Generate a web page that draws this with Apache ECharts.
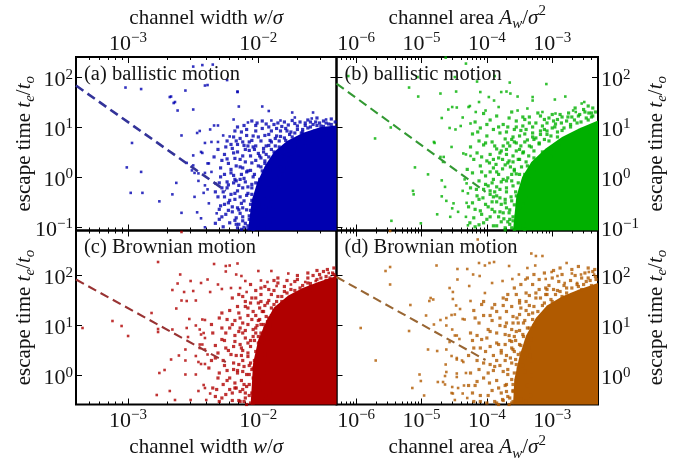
<!DOCTYPE html>
<html>
<head>
<meta charset="utf-8">
<script src="https://cdn.jsdelivr.net/npm/echarts@6/dist/echarts.min.js"></script>
<style>
  html, body { margin: 0; padding: 0; background: #fff; }
  #chart { width: 688px; height: 464px; }
</style>
</head>
<body>
<div id="chart"></div>
<script>
// Every point is stored as [log10(size), log10(t_e / t_o)], where size is the
// channel width w/σ (left panels) or the channel area A_w/σ² (right panels).

// (a) ballistic motion vs channel width
const ballisticWidthSparse = [
  [-3.02,1.79],[-2.90,1.76],[-2.67,1.61],[-2.56,1.73],[-2.64,1.50],[-2.62,1.33],[-2.50,1.35],[-2.41,1.83],
  [-2.59,0.83],[-2.47,0.88],[-2.45,0.92],[-2.41,0.68],[-2.97,0.68],[-3.01,0.19],[-2.90,0.10],[-2.50,0.43],
  [-2.44,0.50],[-2.43,0.48],[-2.39,0.27],[-2.50,0.23],[-2.55,0.28],[-2.51,0.13],[-2.49,0.08],[-2.46,0.07],
  [-2.41,0.08],[-2.63,-0.12],[-2.46,-0.08],[-2.41,-0.17],[-2.42,-0.32],[-2.39,-0.25],[-2.49,-0.40],[-2.89,-0.32],
  [-2.98,-0.32],[-2.66,-0.35],[-2.76,-0.49],[-2.59,-0.72],[-2.47,-0.71],[-2.44,-0.83],[-2.41,-1.01],
  [-2.50,2.21],[-2.43,2.24],[-2.39,1.84],[-2.24,1.94],[-2.16,1.70],[-2.68,1.60],[-2.65,1.48],
  [-2.35,2.25],[-2.16,1.71],[-2.15,1.41],[-1.97,1.41],[-1.92,1.32],[-1.74,1.29],[-1.58,1.29],[-1.48,1.15],
  [-1.59,1.17],[-1.72,1.19],[-1.83,1.13],[-1.90,1.13],[-2.08,1.09],[-2.19,1.15],[-2.34,1.03],[-2.31,1.03],
  [-2.37,0.95],[-2.27,0.83],[-2.22,0.81],[-2.31,0.70],[-2.36,0.70],[-2.38,0.27],[-2.36,0.10],[-2.33,-0.13],
  [-2.32,-0.73],[-2.38,-0.53]
];
const ballisticWidthCloud = [
  [-2.16,1.00],[-2.11,1.03],[-2.02,1.03],[-1.97,0.97],[-1.92,1.00],[-1.90,0.92],[-1.86,0.97],[-1.82,1.01],
  [-1.79,0.97],[-1.75,0.90],[-1.72,1.07],[-1.66,0.95],[-1.64,1.03],[-1.60,1.00],[-1.55,1.03],[-1.50,1.01],
  [-1.43,0.99],[-2.19,0.80],[-2.14,0.77],[-2.09,0.83],[-2.05,0.73],[-2.00,0.80],[-1.95,0.83],[-1.91,0.73],
  [-1.87,0.77],[-1.83,0.81],[-1.79,0.73],[-1.74,0.80],[-1.70,0.77],[-1.66,0.83],[-1.61,0.85],[-2.25,0.60],
  [-2.20,0.57],[-2.16,0.50],[-2.11,0.63],[-2.07,0.53],[-2.04,0.60],[-2.00,0.47],[-1.96,0.57],[-1.92,0.63],
  [-1.88,0.50],[-1.84,0.60],[-1.81,0.50],[-1.77,0.57],[-1.72,0.60],[-2.28,0.33],[-2.23,0.27],[-2.18,0.37],
  [-2.14,0.20],[-2.10,0.30],[-2.06,0.13],[-2.02,0.33],[-1.98,0.20],[-1.95,0.27],[-1.91,0.13],[-1.87,0.37],
  [-1.83,0.20],[-1.79,0.30],[-1.75,0.40],[-2.29,0.00],[-2.24,-0.10],[-2.19,0.03],[-2.15,-0.17],[-2.11,-0.03],
  [-2.08,-0.20],[-2.04,0.00],[-2.00,-0.13],[-1.96,0.03],[-1.92,-0.23],[-1.88,-0.07],[-1.84,0.03],[-2.31,-0.40],
  [-2.27,-0.30],[-2.22,-0.47],[-2.18,-0.33],[-2.13,-0.53],[-2.09,-0.37],[-2.05,-0.47],[-2.01,-0.30],[-1.97,-0.57],
  [-1.93,-0.40],[-1.90,-0.50],[-2.28,-0.80],[-2.23,-0.67],[-2.18,-0.87],[-2.14,-0.73],[-2.10,-0.93],[-2.06,-0.67],
  [-2.02,-0.83],[-1.98,-0.97],[-1.95,-0.73],[-1.91,-0.90],[-2.33,-0.93],[-2.11,-1.01],[-1.45,0.92],[-1.48,0.85],
  [-1.52,0.88],[-1.55,0.80],[-1.58,0.72],[-1.62,0.68],[-1.65,0.62],[-1.68,0.70],[-1.70,0.52],[-1.47,0.95],
  [-1.42,0.95],[-1.53,0.74],[-1.57,0.92],[-1.63,0.76],[-1.69,0.45],[-1.76,0.30],[-1.78,0.18],[-1.81,0.05],
  [-1.84,-0.20],[-1.87,-0.35],[-1.89,-0.60],[-1.88,-0.85],[-1.93,-1.02],[-1.86,-0.02],[-1.80,0.40],[-1.74,0.48],
  [-1.97,-0.20],[-1.95,-0.45],[-1.99,-0.65],[-1.96,-0.85],[-2.03,-0.58],[-2.00,-1.03],[-1.94,-0.60],[-2.02,-0.12],
  [-1.98,0.38],[-1.94,0.45],[-1.90,0.28],[-1.86,0.45],[-1.85,0.15],[-1.82,0.42],[-1.77,0.45],[-1.72,0.68],[-1.67,0.88],
  [-2.26,0.45],[-2.21,0.15],[-2.17,-0.08],[-2.24,-0.22],[-2.20,-0.60],[-2.15,-0.95],[-2.07,-0.78],[-2.05,-0.22],
  [-2.12,0.42],[-2.07,0.70],[-2.02,0.92],[-2.13,0.90],[-2.24,0.72],[-2.29,0.18],[-2.26,-0.55],[-2.30,-0.65],
  [-2.12,-0.62],[-2.03,0.55],[-2.09,0.10],[-2.16,0.65],[-1.85,1.08],[-1.77,1.04],[-1.68,1.10],[-1.62,1.14],
  [-1.53,1.08],[-1.46,1.06],[-1.94,1.06],[-2.05,1.12],
  [-2.04,-1.05],[-2.08,-0.98],[-2.03,-0.90],[-2.07,-0.85],[-2.12,-0.80],[-2.04,-0.72],[-2.09,-0.66],[-2.02,-0.62],
  [-2.06,-0.55],[-2.11,-0.48],[-2.03,-0.42],[-2.08,-0.33],[-2.01,-0.27],[-2.05,-0.15],[-2.10,-0.10],[-1.99,-0.05],
  [-2.03,0.05],[-2.08,0.12],[-1.97,0.12],[-2.00,0.22],[-2.05,0.28],[-1.95,0.32],[-1.99,0.42],[-1.92,0.40],
  [-1.96,0.50],[-1.90,0.55],[-1.94,0.62],[-1.87,0.62],[-1.90,0.70],[-1.84,0.72],[-1.86,0.82],[-1.80,0.78],
  [-1.76,0.85],[-1.78,0.92],[-1.72,0.88],[-1.70,0.95],[-1.66,0.90],[-1.62,0.98],[-1.58,1.05],[-1.52,1.02],
  [-1.48,1.08],[-1.44,1.05],[-1.41,1.10],[-1.50,1.12],[-1.56,1.10],[-1.64,1.08],[-2.14,-0.40],[-2.16,-0.62],
  [-2.13,0.05],[-2.12,-0.22],[-2.18,-0.05],[-2.06,0.42],[-2.02,0.62],[-1.98,0.72],[-1.92,0.85],[-1.83,0.92],
  [-2.01,-0.78],[-2.05,-0.35],[-2.13,-1.05],[-2.17,-0.95],
  [-2.27,-1.00],[-2.22,-0.92],[-2.17,-0.82],[-2.25,-0.75],[-2.20,-0.70],[-2.15,-0.66],[-2.29,-0.58],[-2.23,-0.52],
  [-2.18,-0.45],[-2.26,-0.40],[-2.21,-0.35],[-2.16,-0.28],[-2.28,-0.22],[-2.23,-0.16],[-2.19,-0.12],[-2.14,-0.05],
  [-2.26,0.05],[-2.21,0.08],[-2.17,0.22],[-2.12,0.18],[-2.24,0.36],[-2.19,0.48],[-2.14,0.35],[-2.10,0.55],
  [-2.21,0.65],[-2.17,0.72],[-2.12,0.70],[-2.08,0.62],[-2.04,0.82],[-2.09,0.95],[-2.18,0.92],[-2.01,1.08],
  [-1.97,1.12],[-1.88,1.05],[-1.80,1.10],[-1.74,1.13],[-1.70,1.02],[-1.60,1.10],[-1.55,1.18],[-1.44,1.16],
  [-2.30,-0.85],[-2.33,-0.30],[-2.31,0.55],[-2.34,0.40],[-2.30,-0.12],[-2.12,-0.88],[-2.08,-1.04],[-2.16,-1.02]
];
const ballisticWidthCore = [
  [-1.40,1.03],[-1.52,1.00],[-1.66,0.88],[-1.78,0.72],[-1.88,0.50],[-1.95,0.22],[-2.01,-0.12],[-2.05,-0.47],
  [-2.08,-1.08],[-1.40,-1.08]
];
const ballisticWidthFit = [[-3.40,1.83],[-2.25,-0.28]];

// (b) ballistic motion vs channel area
const ballisticAreaSparse = [
  [-6.12,2.02],[-5.19,1.79],[-5.05,1.61],[-4.71,1.67],[-5.06,2.00],[-4.49,2.00],[-4.32,2.27],[-4.63,2.39],
  [-4.59,1.35],[-4.53,1.40],[-4.46,1.39],[-4.26,1.42],[-4.69,1.18],[-4.37,1.19],[-4.57,0.98],[-4.48,0.95],
  [-4.40,1.02],[-5.47,0.99],[-5.71,0.77],[-4.81,0.70],[-4.54,0.60],[-4.36,0.47],[-4.32,0.45],[-4.25,0.42],
  [-4.71,0.40],[-4.66,0.40],[-4.67,0.30],[-5.10,0.19],[-4.90,0.05],[-4.34,-0.05],[-4.31,-0.13],[-4.69,-0.07],
  [-4.64,-0.20],[-4.37,-0.28],[-4.29,-0.33],[-5.13,-0.28],[-5.12,-0.35],[-4.69,-0.39],[-4.62,-0.48],[-4.51,-0.53],
  [-4.31,-0.52],[-4.53,-0.63],[-4.44,-0.70],[-4.76,-0.75],[-4.56,-0.80],[-4.32,-0.80],[-5.46,-0.88],[-5.01,-0.93],
  [-4.29,-0.97],[-4.47,1.71],[-4.15,1.91],[-3.88,2.02],[-3.65,1.89],[-3.09,1.86],[-2.80,1.61],[-2.55,1.47],
  [-3.70,1.71],[-4.80,0.68],[-4.10,1.70],[-3.78,1.70],[-3.64,1.67],[-3.89,1.53],[-3.97,1.60],[-3.82,1.40],
  [-3.53,1.61],[-3.30,1.60],[-3.30,1.53],[-2.51,1.50],[-2.96,1.55],[-4.28,1.40],[-4.12,1.50],[-4.25,1.07],
  [-4.17,1.30],[-4.02,1.33],[-3.53,1.33],[-3.38,1.37],[-3.15,1.30],[-2.95,1.27],[-2.68,1.33],[-2.64,1.30]
];
const ballisticAreaCloud = [
  [-4.05,1.27],[-3.85,1.22],[-3.62,1.30],[-3.45,1.20],[-3.22,1.28],[-3.05,1.18],[-2.88,1.25],[-2.70,1.20],
  [-2.50,1.30],[-2.38,1.22],[-4.18,1.10],[-3.95,1.14],[-3.75,1.05],[-3.55,1.12],[-3.35,1.08],[-3.12,1.15],
  [-2.95,1.06],[-2.78,1.12],[-2.62,1.08],[-2.45,1.14],[-2.33,1.05],[-4.10,0.98],[-3.90,0.95],[-3.68,1.00],
  [-3.48,0.93],[-3.30,1.00],[-3.18,0.92],[-3.00,0.98],[-2.85,0.93],[-2.72,1.00],[-2.55,0.95],[-2.42,0.90],
  [-4.22,0.86],[-4.00,0.82],[-3.80,0.88],[-3.60,0.80],[-3.42,0.86],[-3.25,0.78],[-3.08,0.85],[-2.92,0.80],
  [-2.80,0.72],[-2.68,0.84],[-4.12,0.72],[-3.92,0.70],[-3.72,0.76],[-3.55,0.68],[-3.38,0.74],[-3.20,0.66],
  [-3.05,0.72],[-2.90,0.62],[-2.97,0.55],[-4.25,0.60],[-4.05,0.64],[-3.85,0.56],[-3.65,0.62],[-3.50,0.55],
  [-3.32,0.60],[-3.15,0.50],[-3.02,0.42],[-3.10,0.35],[-4.15,0.48],[-3.95,0.45],[-3.78,0.52],[-3.60,0.42],
  [-3.45,0.48],[-3.28,0.38],[-3.20,0.28],[-4.20,0.35],[-4.00,0.32],[-3.82,0.38],[-3.68,0.28],[-3.52,0.35],
  [-3.38,0.22],[-3.28,0.12],[-4.10,0.22],[-3.90,0.18],[-3.72,0.24],[-3.58,0.15],[-3.42,0.05],[-3.35,-0.05],
  [-4.22,0.08],[-4.02,0.02],[-3.85,0.10],[-3.68,-0.02],[-3.55,0.06],[-3.45,-0.15],[-4.12,-0.08],[-3.92,-0.12],
  [-3.75,-0.05],[-3.60,-0.18],[-3.48,-0.28],[-3.40,-0.40],[-4.25,-0.22],[-4.05,-0.25],[-3.85,-0.20],[-3.70,-0.30],
  [-3.55,-0.38],[-3.45,-0.55],[-4.15,-0.38],[-3.95,-0.35],[-3.80,-0.42],[-3.62,-0.48],[-3.50,-0.62],[-3.42,-0.75],
  [-4.22,-0.52],[-4.02,-0.55],[-3.85,-0.50],[-3.70,-0.62],[-3.55,-0.78],[-3.44,-0.92],[-4.10,-0.68],[-3.92,-0.65],
  [-3.75,-0.72],[-3.60,-0.88],[-3.50,-1.00],[-4.20,-0.82],[-4.00,-0.85],[-3.82,-0.80],[-3.65,-0.95],[-3.42,-1.05],
  [-4.12,-0.96],[-3.90,-0.98],[-3.72,-1.02],[-3.58,-1.05],
  [-4.30,0.15],[-4.28,-0.60],[-4.18,-0.65],[-4.08,0.40],[-3.98,-0.18],[-3.88,0.62],[-3.96,0.28],[-4.06,-0.42],
  [-3.78,-0.90],[-3.88,-0.30],[-4.14,0.90],[-3.66,1.18],[-3.42,1.15],[-3.18,1.22],[-2.92,1.15],[-2.60,1.22],
  [-2.40,1.28],[-4.00,1.05],[-3.82,1.00],[-3.58,0.95],[-3.66,-0.72],[-3.72,-0.45],[-3.62,0.05],[-3.75,0.62],
  [-3.62,-1.02],[-3.68,-0.90],[-3.60,-0.80],[-3.74,-0.84],[-3.65,-0.66],[-3.58,-0.56],[-3.72,-0.52],[-3.63,-0.40],
  [-3.56,-0.30],[-3.70,-0.22],[-3.52,-0.12],[-3.62,-0.08],[-3.50,0.05],[-3.58,0.12],[-3.47,0.20],[-3.40,0.30],
  [-3.50,0.35],[-3.36,0.42],[-3.44,0.50],[-3.28,0.52],[-3.35,0.62],[-3.20,0.68],[-3.28,0.75],[-3.12,0.75],
  [-3.18,0.85],[-3.02,0.82],[-3.08,0.92],[-2.92,0.90],[-2.96,1.00],[-2.82,0.98],[-2.86,1.08],[-2.72,1.05],
  [-2.66,1.14],[-2.56,1.10],[-2.48,1.18],[-2.40,1.20],[-2.34,1.30],[-2.44,1.28],[-2.58,1.25],[-2.76,1.20],
  [-3.80,-0.70],[-3.78,-0.10],[-3.66,0.32],[-3.55,0.52],[-3.42,0.70],[-3.30,0.88],[-3.15,1.02],[-2.98,1.12],
  [-3.85,-0.98],[-3.90,-0.40],[-3.70,0.45],[-3.58,0.70],[-3.40,0.95],[-3.72,-1.06],[-3.64,0.20],
  [-4.18,-1.00],[-4.05,-0.92],[-3.95,-0.80],[-3.88,-0.70],[-4.08,-0.75],[-3.98,-0.60],[-3.92,-0.50],[-4.12,-0.45],
  [-3.85,-0.38],[-3.95,-0.28],[-4.02,-0.15],[-3.80,-0.25],[-3.90,-0.05],[-3.82,0.05],[-3.95,0.10],[-3.76,0.16],
  [-3.86,0.25],[-3.76,0.35],[-3.90,0.35],[-3.70,0.55],[-3.80,0.48],[-3.68,0.68],[-3.62,0.75],[-3.50,0.82],
  [-3.70,0.90],[-3.45,1.02],[-3.55,1.00],[-3.25,1.08],[-3.35,1.20],[-3.08,1.08],[-3.00,1.25],[-2.85,1.20],
  [-2.75,1.28],[-2.65,1.38],[-2.52,1.35],[-2.38,1.38],[-2.45,1.42],[-3.52,-0.95],[-3.65,-0.85],[-3.78,-0.55],
  [-3.70,-0.08],[-3.60,0.30],[-3.48,0.62],[-3.30,0.80],[-3.12,0.95],[-4.26,-0.92],[-4.16,-0.25],[-4.08,0.10],
  [-4.02,0.68]
];
const ballisticAreaCore = [
  [-2.30,1.13],[-2.59,0.97],[-2.85,0.80],[-3.10,0.57],[-3.32,0.30],[-3.46,0.00],[-3.55,-0.40],[-3.60,-1.08],
  [-2.30,-1.08]
];
const ballisticAreaFit = [[-6.30,1.87],[-4.02,-0.30]];

// (c) Brownian motion vs channel width
const brownianWidthSparse = [
  [-2.77,2.27],[-3.35,0.95],[-3.12,1.09],[-3.05,0.99],[-3.00,0.79],[-2.82,1.25],[-2.77,0.93],[-2.77,0.87],
  [-2.66,0.92],[-2.60,2.02],[-2.62,1.84],[-2.66,1.71],[-2.63,1.34],[-2.59,1.50],[-2.57,1.67],[-2.52,1.89],
  [-2.50,1.69],[-2.55,1.49],[-2.48,1.50],[-2.44,1.85],[-2.53,1.13],[-2.48,1.00],[-2.55,0.95],[-2.43,1.12],
  [-2.41,1.11],[-2.45,0.92],[-2.44,0.82],[-2.41,0.75],[-2.42,0.85],[-2.45,0.62],[-2.43,0.62],[-2.45,0.55],
  [-2.41,0.52],[-2.39,0.42],[-2.54,0.77],[-2.56,0.52],[-2.61,0.40],[-2.56,0.30],[-2.48,0.39],[-2.44,0.23],
  [-2.41,0.23],[-2.46,0.27],[-2.67,0.32],[-2.72,0.11],[-2.76,0.05],[-2.56,0.02],[-2.48,0.02],[-2.42,-0.19],
  [-2.41,-0.25],[-2.68,-0.31],[-2.78,-0.39],[-2.64,-0.49],[-2.46,-0.31],[-2.37,-0.36],[-2.40,-0.49],[-2.52,-0.49],
  [-2.59,2.87],[-2.34,2.23],[-2.25,2.19],[-2.22,2.20],[-2.16,2.24],[-2.25,2.08],[-2.17,2.02],[-2.13,1.99],
  [-2.10,1.89],[-2.00,2.09],[-1.90,2.09],[-1.77,2.04],[-1.98,1.90],[-2.39,1.92],[-2.31,1.82],[-2.37,1.67],
  [-2.28,1.73],[-2.21,1.75],[-2.14,1.75],[-2.09,1.67],[-1.93,1.87],[-1.86,1.79],[-1.75,1.82],[-1.64,1.87],
  [-1.56,1.89],[-1.46,2.05],[-1.41,1.99]
];
const brownianWidthCloud = [
  [-2.05,1.55],[-1.98,1.62],[-1.92,1.50],[-1.85,1.58],[-1.80,1.68],[-1.72,1.62],[-1.68,1.75],[-1.60,1.78],
  [-1.55,1.70],[-1.50,1.85],[-1.45,1.95],[-1.42,2.02],[-1.52,1.95],[-1.62,1.85],[-1.75,1.72],[-1.88,1.70],
  [-2.00,1.45],[-1.95,1.40],[-1.88,1.42],[-1.82,1.48],[-2.10,1.48],[-2.22,1.30],[-2.15,1.25],[-2.08,1.35],
  [-2.02,1.20],[-1.96,1.28],[-1.92,1.15],[-1.88,1.30],[-2.30,1.15],[-2.18,1.10],[-2.12,1.05],[-2.05,1.12],
  [-1.98,1.02],[-1.93,1.08],[-2.35,0.85],[-2.28,0.72],[-2.22,0.95],[-2.18,0.80],[-2.14,0.62],[-2.10,0.90],
  [-2.06,0.70],[-2.02,0.85],[-1.98,0.58],[-1.95,0.95],[-1.93,0.72],[-2.25,0.55],[-2.12,0.50],[-2.00,0.78],
  [-1.97,0.65],[-2.33,0.35],[-2.26,0.20],[-2.21,0.42],[-2.16,0.10],[-2.12,0.30],[-2.08,0.45],[-2.04,0.15],
  [-2.00,0.35],[-1.96,0.05],[-1.93,0.25],[-2.30,0.05],[-2.19,0.25],[-2.07,0.02],[-1.95,0.42],[-2.35,-0.25],
  [-2.28,-0.45],[-2.24,-0.10],[-2.20,-0.35],[-2.15,-0.50],[-2.11,-0.18],[-2.07,-0.40],[-2.03,-0.08],[-1.99,-0.30],
  [-1.95,-0.52],[-1.93,-0.15],[-2.31,-0.05],[-2.17,-0.25],[-2.01,-0.45],[-1.91,1.00],[-1.92,0.50],[-1.91,-0.35],
  [-1.92,0.10],[-1.97,-0.10],[-1.94,0.82],[-1.99,1.12],[-1.96,0.18],[-1.94,-0.40],[-1.98,0.48],[-2.04,0.92],
  [-1.90,1.20],[-1.84,1.38],[-1.78,1.52],[-1.70,1.58],[-1.58,1.72],[-1.48,1.90],
  [-2.38,0.15],[-2.33,-0.42],[-2.26,0.70],[-2.22,-0.28],[-2.19,0.58],[-2.14,0.95],[-2.10,-0.35],[-2.06,0.25],
  [-2.04,-0.55],[-2.08,1.20],[-2.16,1.38],[-2.24,1.12],[-2.12,1.58],[-2.02,1.70],[-1.95,1.78],[-1.85,1.85],
  [-1.72,1.88],[-1.62,1.95],[-1.53,2.02],[-2.31,0.45],[-2.36,1.02],[-2.20,1.55],[-2.28,0.95],[-2.13,-0.10],
  [-2.06,-0.55],[-2.10,-0.45],[-2.05,-0.35],[-2.12,-0.28],[-2.07,-0.18],[-2.04,-0.05],[-2.09,0.02],[-2.05,0.12],
  [-2.11,0.18],[-2.03,0.30],[-2.08,0.38],[-2.02,0.48],[-2.06,0.58],[-2.00,0.65],[-2.04,0.78],[-1.98,0.85],
  [-2.02,0.95],[-1.96,1.02],[-2.00,1.10],[-1.94,1.18],[-1.97,1.28],[-1.90,1.35],[-1.93,1.45],[-1.86,1.48],
  [-1.82,1.58],[-1.78,1.65],[-1.72,1.70],[-1.66,1.80],[-1.60,1.84],[-1.55,1.92],[-1.48,1.98],[-1.43,2.05],
  [-1.50,2.08],[-1.58,2.00],[-1.70,1.92],[-1.80,1.78],[-2.14,-0.52],[-2.16,0.05],[-2.13,0.55],[-2.10,0.75],
  [-2.08,1.02],[-2.04,1.28],[-1.98,1.48],[-1.90,1.62],[-2.18,-0.15],[-2.17,0.40],[-2.09,-0.58],[-2.15,0.88],
  [-2.30,-0.52],[-2.25,-0.38],[-2.20,-0.50],[-2.18,-0.25],[-2.27,-0.18],[-2.22,-0.05],[-2.14,-0.32],[-2.19,0.12],
  [-2.27,0.30],[-2.23,0.50],[-2.15,0.22],[-2.12,0.08],[-2.18,0.68],[-2.25,0.85],[-2.12,0.85],[-2.08,0.65],
  [-2.20,1.02],[-2.14,1.15],[-2.06,1.45],[-2.10,1.38],[-2.02,1.55],[-2.15,1.62],[-1.98,1.75],[-1.92,1.72],
  [-1.85,1.95],[-1.78,1.90],[-1.70,2.00],[-1.62,2.05],[-1.55,2.10],[-1.47,2.12],[-1.42,2.15],[-1.88,1.90],
  [-2.06,1.82],[-2.33,0.60],[-2.36,0.30],[-2.32,-0.28],[-2.09,-0.22],[-2.07,0.20],[-2.13,0.40],[-2.03,0.70],
  [-2.01,1.00],[-1.99,1.35],[-2.11,-0.52],[-2.24,0.10],[-2.28,1.25]
];
const brownianWidthCore = [
  [-1.40,1.99],[-1.54,1.87],[-1.66,1.75],[-1.77,1.60],[-1.88,1.36],[-1.94,1.08],[-2.00,0.72],[-2.04,0.25],
  [-2.06,-0.60],[-1.40,-0.60]
];
const brownianWidthFit = [[-3.40,1.92],[-2.25,0.27]];

// (d) Brownian motion vs channel area
const brownianAreaSparse = [
  [-5.55,2.09],[-5.48,2.17],[-5.48,1.82],[-5.93,0.95],[-5.70,0.30],[-5.19,0.89],[-5.17,1.41],[-4.93,1.20],
  [-4.90,0.52],[-4.86,1.55],[-4.82,1.52],[-4.88,1.49],[-4.77,2.20],[-4.76,0.49],[-4.81,1.02],[-4.71,1.11],
  [-5.03,0.02],[-5.01,-0.11],[-5.14,-0.25],[-4.96,-0.40],[-4.62,1.15],[-4.57,1.75],[-4.52,1.67],[-4.52,1.53],
  [-4.47,1.40],[-4.41,1.33],[-4.49,1.22],[-4.54,1.21],[-4.45,1.92],[-4.45,2.13],[-4.30,2.13],[-4.27,1.79],
  [-4.34,1.12],[-4.37,1.13],[-4.53,0.92],[-4.49,0.80],[-4.46,0.80],[-4.42,0.73],[-4.62,1.00],[-4.57,0.67],
  [-4.62,0.52],[-4.54,0.39],[-4.46,0.35],[-4.38,0.30],[-4.36,0.27],[-4.63,0.22],[-4.62,0.07],[-4.64,-0.01],
  [-4.67,-0.13],[-4.64,-0.18],[-4.46,0.04],[-4.46,-0.03],[-4.32,0.05],[-4.53,-0.23],[-4.52,-0.36],[-4.44,-0.25],
  [-4.49,-0.49],[-4.35,-0.20],[-4.37,-0.36],[-4.30,-0.45],[-4.75,-0.13],[-4.46,0.32],[-4.54,-0.35],[-5.48,2.89],
  [-4.14,2.72],[-3.96,2.25],[-3.89,2.27],[-4.03,2.20],[-4.12,2.25],[-3.66,2.19],[-3.38,2.15],[-3.26,2.20],
  [-3.25,2.39],[-3.32,2.44],[-3.15,2.39],[-2.78,2.25],[-3.01,2.07],[-2.70,2.04],[-2.56,2.02],[-2.44,2.07],
  [-2.36,2.02],[-4.21,2.02],[-4.11,1.99],[-3.76,1.89],[-3.61,1.93],[-3.51,2.02],[-3.41,1.92],[-3.10,1.93],
  [-2.92,1.99],[-2.81,1.85],[-2.62,1.85],[-4.25,1.49],[-4.03,1.65],[-3.92,1.85]
];
const brownianAreaCloud = [
  [-3.25,1.55],[-3.15,1.40],[-3.08,1.62],[-3.00,1.48],[-2.92,1.70],[-2.85,1.58],[-2.78,1.75],[-2.70,1.62],
  [-2.62,1.82],[-2.55,1.72],[-2.48,1.88],[-2.40,1.80],[-2.33,1.92],[-3.20,1.72],[-3.05,1.80],[-2.90,1.88],
  [-2.72,1.90],[-2.45,1.95],[-3.35,1.40],[-3.30,1.25],[-4.20,1.30],[-4.05,1.20],[-3.92,1.35],[-3.80,1.15],
  [-3.70,1.28],[-3.60,1.05],[-3.50,1.22],[-3.42,1.10],[-3.35,0.95],[-4.12,1.05],[-3.98,0.92],[-3.85,0.85],
  [-3.72,0.98],[-3.55,0.88],[-3.45,0.82],[-3.62,1.38],[-3.88,1.42],[-4.22,0.70],[-4.10,0.55],[-4.00,0.75],
  [-3.90,0.40],[-3.82,0.62],[-3.72,0.30],[-3.65,0.70],[-3.58,0.48],[-3.50,0.62],[-3.42,0.35],[-3.36,0.55],
  [-3.32,0.72],[-4.15,0.30],[-3.95,0.22],[-3.78,0.50],[-3.62,0.25],[-3.45,0.20],[-3.34,0.40],[-4.25,0.05],
  [-4.18,-0.20],[-4.05,-0.05],[-3.98,-0.40],[-3.90,0.10],[-3.82,-0.25],[-3.75,-0.50],[-3.68,0.02],[-3.60,-0.30],
  [-3.55,-0.10],[-3.48,-0.48],[-3.42,0.08],[-3.38,-0.20],[-3.33,-0.40],[-4.10,-0.52],[-3.85,-0.55],[-3.65,-0.45],
  [-3.52,0.15],[-3.31,0.00],[-3.40,1.30],[-3.28,1.00],[-3.38,0.72],[-3.31,0.30],[-3.40,-0.52],[-3.52,-0.25],
  [-3.48,0.45],[-3.58,0.78],[-3.70,-0.18],[-3.95,0.58],[-4.05,1.48],[-3.75,1.55],[-3.50,1.50],[-3.10,1.75],
  [-4.28,0.40],[-4.22,-0.35],[-4.15,0.80],[-4.08,1.42],[-3.96,-0.15],[-3.92,1.10],[-3.85,0.30],[-3.78,-0.35],
  [-3.70,1.52],[-3.62,0.55],[-3.55,1.62],[-3.48,1.35],[-3.40,1.65],[-3.30,1.82],[-3.20,1.92],[-3.00,1.95],
  [-2.85,2.02],[-2.65,2.00],[-2.50,2.05],[-3.60,-0.52],[-4.02,0.48],[-3.88,-0.52],[-4.12,0.12],[-3.72,0.82],
  [-3.62,-0.55],[-3.68,-0.42],[-3.60,-0.32],[-3.72,-0.20],[-3.62,-0.08],[-3.58,0.05],[-3.68,0.12],[-3.55,0.22],
  [-3.64,0.35],[-3.52,0.42],[-3.60,0.52],[-3.48,0.60],[-3.56,0.70],[-3.44,0.78],[-3.50,0.90],[-3.38,0.95],
  [-3.44,1.05],[-3.30,1.12],[-3.36,1.22],[-3.22,1.28],[-3.28,1.38],[-3.12,1.45],[-3.18,1.55],[-3.02,1.52],
  [-2.95,1.62],[-2.88,1.68],[-2.78,1.65],[-2.70,1.75],[-2.60,1.78],[-2.52,1.82],[-2.42,1.90],[-2.34,1.98],
  [-2.38,2.08],[-2.55,1.95],[-2.82,1.80],[-3.76,-0.48],[-3.80,0.20],[-3.72,0.62],[-3.62,0.92],[-3.54,1.15],
  [-3.40,1.48],[-3.25,1.65],[-3.08,1.72],[-3.85,-0.10],[-3.78,0.45],[-3.66,-0.58],[-3.70,1.05],
  [-4.20,-0.52],[-4.10,-0.40],[-4.00,-0.55],[-3.92,-0.30],[-4.15,-0.12],[-4.05,0.25],[-3.98,0.05],[-3.88,0.18],
  [-4.20,0.55],[-4.08,0.72],[-3.95,0.88],[-3.85,0.65],[-3.80,1.00],[-3.95,1.20],[-3.85,1.28],[-3.75,1.40],
  [-3.68,1.62],[-3.58,1.75],[-3.48,1.82],[-3.38,1.95],[-3.28,2.02],[-3.12,2.05],[-2.98,2.10],[-2.88,2.15],
  [-2.70,2.12],[-2.60,2.18],[-2.45,2.15],[-2.35,2.12],[-3.10,1.62],[-2.98,1.72],[-3.70,-0.32],[-3.75,0.08],
  [-3.70,0.40],[-3.66,0.80],[-3.60,1.18],[-3.50,1.45],[-3.60,-0.18],[-4.28,-0.20],[-4.25,0.85],[-4.18,1.15],
  [-3.82,-0.58],[-3.62,0.68],[-3.56,0.32],[-3.52,1.05],[-3.35,1.60]
];
const brownianAreaCore = [
  [-2.30,1.85],[-2.59,1.72],[-2.85,1.58],[-3.08,1.40],[-3.25,1.15],[-3.40,0.80],[-3.50,0.39],[-3.58,-0.08],
  [-3.60,-0.60],[-2.30,-0.60]
];
const brownianAreaFit = [[-6.30,1.97],[-4.02,0.31]];

// Tick positions (decades) for the four axes
const widthDecades = [-3, -2];
const areaDecades = [-6, -5, -4, -3];
const timeDecadesTop = [-1, 0, 1, 2];
const timeDecadesBottom = [0, 1, 2];

const SERIF = '"Liberation Serif", "DejaVu Serif", serif';
const INK = '#141414';

const tickRich = {
  b: { fontFamily: SERIF, fontSize: 22, lineHeight: 26, color: INK },
  s: { fontFamily: SERIF, fontSize: 15, lineHeight: 15, verticalAlign: 'top', color: INK }
};
const nameRich = {
  r: { fontFamily: SERIF, fontSize: 21, lineHeight: 28, color: INK },
  i: { fontFamily: SERIF, fontSize: 21, lineHeight: 28, fontStyle: 'italic', color: INK },
  sub: { fontFamily: SERIF, fontSize: 15, lineHeight: 16, fontStyle: 'italic', verticalAlign: 'bottom', color: INK },
  sup: { fontFamily: SERIF, fontSize: 15, lineHeight: 16, verticalAlign: 'top', color: INK }
};
const powLabel = v => {
  const n = Math.round(v);
  return '{b|10}{s|' + (n < 0 ? '\u2212' : '') + Math.abs(n) + '}';
};
const minorDecadeTicks = (lo, hi) => {
  const out = [];
  for (let n = Math.floor(lo); n <= Math.ceil(hi); n++) {
    for (let k = 2; k <= 9; k++) {
      const v = n + Math.log10(k);
      if (v > lo + 0.01 && v < hi - 0.01) out.push(v);
    }
  }
  return out;
};

const widthName = '{r|channel width }{i|w}{r|/}{i|σ}';
const areaName = '{r|channel area }{i|A}{sub|w}{r|/}{i|σ}{sup|2}';
const timeName = '{r|escape time }{i|t}{sub|e}{r|/}{i|t}{sub|o}';

const panels = [
  { grid: { left: 76, top: 57, width: 260.5, height: 173.5 }, x: [-3.4, -1.4], y: [-1.074, 2.402],
    xMajor: widthDecades, yMajor: timeDecadesTop, xSide: 'top', ySide: 'left', xName: widthName },
  { grid: { left: 336.5, top: 57, width: 261.5, height: 173.5 }, x: [-6.3, -2.3], y: [-1.074, 2.402],
    xMajor: areaDecades, yMajor: timeDecadesTop, xSide: 'top', ySide: 'right', xName: areaName },
  { grid: { left: 76, top: 230.5, width: 260.5, height: 174 }, x: [-3.4, -1.4], y: [-0.58, 2.9],
    xMajor: widthDecades, yMajor: timeDecadesBottom, xSide: 'bottom', ySide: 'left', xName: widthName },
  { grid: { left: 336.5, top: 230.5, width: 261.5, height: 174 }, x: [-6.3, -2.3], y: [-0.58, 2.9],
    xMajor: areaDecades, yMajor: timeDecadesBottom, xSide: 'bottom', ySide: 'right', xName: areaName }
];

const tickStyle = { color: '#000', width: 1 };
const grids = [], xAxes = [], yAxes = [];
panels.forEach((p, gi) => {
  grids.push(Object.assign({ show: true, borderColor: '#000', borderWidth: 2, backgroundColor: 'transparent' }, p.grid));
  const minor = minorDecadeTicks(p.x[0], p.x[1]);
  ['bottom', 'top'].forEach(pos => {
    const labelled = pos === p.xSide;
    const base = { type: 'value', gridIndex: gi, position: pos, min: p.x[0], max: p.x[1],
      splitLine: { show: false }, axisLine: { show: false, onZero: false } };
    xAxes.push(Object.assign({}, base, {
      axisTick: { show: true, inside: true, length: 6, customValues: p.xMajor, lineStyle: tickStyle },
      axisLabel: { show: labelled, customValues: p.xMajor, formatter: powLabel, rich: tickRich,
        margin: pos === 'top' ? 0 : 3.5 },
      name: labelled ? p.xName : '', nameLocation: 'middle', nameMoveOverlap: false,
      nameGap: pos === 'top' ? 25 : 29,
      nameTextStyle: { rich: nameRich }
    }));
    xAxes.push(Object.assign({}, base, {
      axisTick: { show: true, inside: true, length: 3, customValues: minor, lineStyle: tickStyle },
      axisLabel: { show: false }
    }));
  });
  ['left', 'right'].forEach(pos => {
    const labelled = pos === p.ySide;
    yAxes.push({ type: 'value', gridIndex: gi, position: pos, min: p.y[0], max: p.y[1],
      splitLine: { show: false }, axisLine: { show: false, onZero: false },
      axisTick: { show: true, inside: true, length: 6, customValues: p.yMajor, lineStyle: tickStyle },
      axisLabel: { show: labelled, customValues: p.yMajor, formatter: powLabel, rich: tickRich,
        margin: 3, padding: [6, 0, 0, 0] },
      name: labelled ? timeName : '', nameLocation: 'middle', nameRotate: 90, nameMoveOverlap: false,
      nameGap: pos === 'left' ? 38 : 44,
      nameTextStyle: { rich: nameRich }
    });
  });
});

const dotColors = ['#0000b0', '#00b000', '#b00000', '#b05a00'];
const fitColors = ['#333399', '#339933', '#993333', '#996633'];
const sparse = [ballisticWidthSparse, ballisticAreaSparse, brownianWidthSparse, brownianAreaSparse];
const clouds = [ballisticWidthCloud, ballisticAreaCloud, brownianWidthCloud, brownianAreaCloud];
const cores = [ballisticWidthCore, ballisticAreaCore, brownianWidthCore, brownianAreaCore];
const fits = [ballisticWidthFit, ballisticAreaFit, brownianWidthFit, brownianAreaFit];

const series = [];
panels.forEach((p, gi) => {
  const xi = gi * 4, yi = gi * 2;
  const core = cores[gi];
  // densest part of the cloud, drawn as one filled outline
  series.push({
    type: 'custom', xAxisIndex: xi, yAxisIndex: yi, data: core, clip: true, silent: true, z: 1,
    renderItem: (params, api) => {
      if (params.dataIndex !== 0) return null;
      return { type: 'polygon', shape: { points: core.map(pt => api.coord(pt)) },
        style: { fill: dotColors[gi] } };
    }
  });
  series.push({
    type: 'scatter', xAxisIndex: xi, yAxisIndex: yi, data: clouds[gi],
    symbol: 'rect', symbolSize: 3.2, itemStyle: { color: dotColors[gi] }, silent: true, z: 2
  });
  series.push({
    type: 'scatter', xAxisIndex: xi, yAxisIndex: yi, data: sparse[gi],
    symbol: 'rect', symbolSize: 2.6, itemStyle: { color: dotColors[gi] }, silent: true, z: 2
  });
  series.push({
    type: 'line', xAxisIndex: xi, yAxisIndex: yi, data: fits[gi], showSymbol: false, silent: true, z: 3,
    lineStyle: { color: fitColors[gi], width: gi === 0 ? 2.6 : 2.1, type: [9, 5] }
  });
});

const panelTitles = ['(a) ballistic motion', '(b) ballistic motion', '(c) Brownian motion', '(d) Brownian motion'];
const titles = panelTitles.map((t, i) => ({
  text: t, left: panels[i].grid.left + 8, top: panels[i].grid.top + 7, padding: 0,
  textStyle: { fontFamily: SERIF, fontSize: 20.5, fontWeight: 'normal', color: INK }
}));

const chart = echarts.init(document.getElementById('chart'), null, { renderer: 'canvas' });
chart.setOption({
  animation: false,
  backgroundColor: '#fff',
  title: titles,
  grid: grids,
  xAxis: xAxes,
  yAxis: yAxes,
  series: series
});
</script>
</body>
</html>
